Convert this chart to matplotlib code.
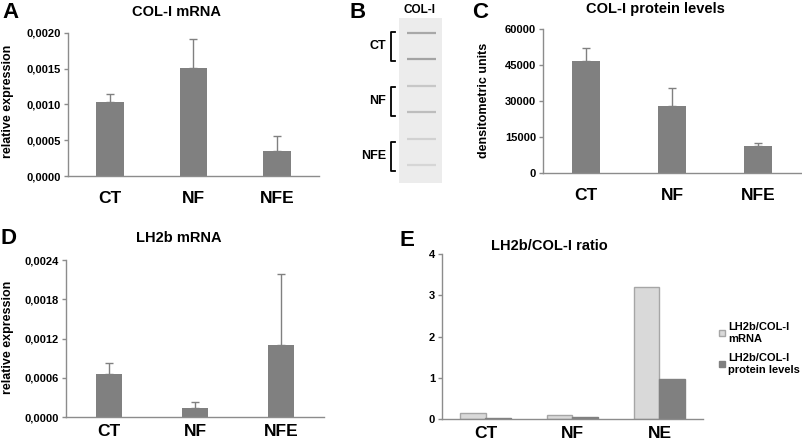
"""Five-panel figure: COL-I / LH2b expression, western blot and ratio."""

import matplotlib
matplotlib.use("Agg")
import matplotlib.pyplot as plt
from matplotlib.lines import Line2D
from matplotlib.patches import Patch, Rectangle
from matplotlib.ticker import FuncFormatter
import numpy as np

plt.rcParams["font.family"] = ["Liberation Sans", "DejaVu Sans"]
plt.rcParams["font.weight"] = "bold"

W, H = 803, 444

groups = ["CT", "NF", "NFE"]
ratio_groups = ["CT", "NF", "NE"]

col_mrna = [0.00104, 0.00151, 0.000345]
col_mrna_err = [0.00011, 0.00041, 0.00022]

col_protein = [46700, 28000, 11400]
col_protein_err = [5500, 7500, 1000]

lh2b_mrna = [0.00065, 0.000138, 0.0011]
lh2b_mrna_err = [0.00018, 0.00009, 0.00109]

ratio_mrna = [0.145, 0.087, 3.2]
ratio_protein = [0.025, 0.05, 0.98]
ratio_labels = ["LH2b/COL-I\nmRNA", "LH2b/COL-I\nprotein levels"]

# blot: band rows (top to bottom) and their grey level
blot_bands = [0.66, 0.64, 0.78, 0.74, 0.82, 0.84]
blot_groups = ["CT", "NF", "NFE"]

BAR = "#808080"
LIGHT = "#d9d9d9"
AXIS = "#8c8c8c"


def box(left, top, right, bottom):
    """pixel box -> figure fraction rect."""
    return [left / W, 1 - bottom / H, (right - left) / W, (bottom - top) / H]


def ftext(x, y, s, **kw):
    kw.setdefault("ha", "center")
    kw.setdefault("va", "center")
    fig.text(x / W, 1 - y / H, s, **kw)


def comma4(v, _pos):
    return f"{v:.4f}".replace(".", ",")


def style(ax, pad_x):
    for side in ("top", "right"):
        ax.spines[side].set_visible(False)
    for side in ("left", "bottom"):
        ax.spines[side].set_color(AXIS)
        ax.spines[side].set_linewidth(1.0)
    ax.tick_params(axis="y", length=3, width=1, color=AXIS, labelsize=8, pad=2)
    ax.tick_params(axis="x", length=0, labelsize=12.5, pad=pad_x)
    ax.set_xlim(-0.5, 2.5)


def err_bars(ax, x, y, e):
    ax.errorbar(x, y, yerr=[np.zeros(len(e)), e], fmt="none", ecolor=BAR,
                elinewidth=1, capsize=3, capthick=1)


fig = plt.figure(figsize=(W / 100, H / 100), dpi=100)

# A: COL-I mRNA
x = np.arange(len(groups))
ax_a = fig.add_axes(box(68, 33, 319, 176))
ax_a.bar(x, col_mrna, 0.33, color=BAR, zorder=2)
err_bars(ax_a, x, col_mrna, col_mrna_err)
ax_a.set_ylim(0, 0.002)
ax_a.set_yticks(np.arange(0, 0.00201, 0.0005))
ax_a.yaxis.set_major_formatter(FuncFormatter(comma4))
ax_a.set_xticks(x, groups)
style(ax_a, 11)
ftext(8, 101, "relative expression", rotation=90, fontsize=9)
ftext(177, 12, "COL-I mRNA", fontsize=10.5)
ftext(2, 13, "A", ha="left", fontsize=16)

# B: blot
ax_b = fig.add_axes(box(399, 18, 442, 183))
ax_b.set_xlim(0, 1)
ax_b.set_ylim(len(blot_bands) - 1 + 0.664, -0.566)
ax_b.axis("off")
ax_b.add_patch(Rectangle((0, -0.6), 1, len(blot_bands) + 1.2, color="#ececec"))
for i, g in enumerate(blot_bands):
    ax_b.hlines(i, 0.18, 0.85, color=str(g), linewidth=1.6)
ftext(420, 10, "COL-I", fontsize=8.5)
ftext(350, 13, "B", ha="left", fontsize=16)
for i, g in enumerate(blot_groups):
    y0, y1 = 31.7 + i * 55, 60.7 + i * 55
    fig.add_artist(Line2D([395 / W, 391.5 / W, 391.5 / W, 395 / W],
                          [1 - y0 / H, 1 - y0 / H, 1 - y1 / H, 1 - y1 / H],
                          color="black", linewidth=1.3))
    ftext(386, (y0 + y1) / 2, g, ha="right", fontsize=9)

# C: COL-I protein
ax_c = fig.add_axes(box(543, 29, 801, 173))
ax_c.bar(x, col_protein, 0.33, color=BAR, zorder=2)
err_bars(ax_c, x, col_protein, col_protein_err)
ax_c.set_ylim(0, 60000)
ax_c.set_yticks(np.arange(0, 60001, 15000))
ax_c.set_xticks(x, groups)
style(ax_c, 11)
ftext(484, 100, "densitometric units", rotation=90, fontsize=9)
ftext(655, 9, "COL-I protein levels", fontsize=10.5)
ftext(472, 13, "C", ha="left", fontsize=16)

# D: LH2b mRNA
ax_d = fig.add_axes(box(66, 260, 324, 417))
ax_d.bar(x, lh2b_mrna, 0.31, color=BAR, zorder=2)
err_bars(ax_d, x, lh2b_mrna, lh2b_mrna_err)
ax_d.set_ylim(0, 0.0024)
ax_d.set_yticks(np.arange(0, 0.00241, 0.0006))
ax_d.yaxis.set_major_formatter(FuncFormatter(comma4))
ax_d.set_xticks(x, groups)
style(ax_d, 5)
ftext(8, 337, "relative expression", rotation=90, fontsize=9)
ftext(179, 238, "LH2b mRNA", fontsize=10.5)
ftext(0, 238, "D", ha="left", fontsize=16)

# E: ratio
ax_e = fig.add_axes(box(442, 254, 703, 419))
w = 0.29
ax_e.bar(x - w / 2, ratio_mrna, w, color=LIGHT, edgecolor="#a6a6a6",
         linewidth=1, label=ratio_labels[0], zorder=2)
ax_e.bar(x + w / 2, ratio_protein, w, color=BAR, edgecolor="#808080",
         linewidth=1, label=ratio_labels[1], zorder=2)
ax_e.set_ylim(0, 4)
ax_e.set_yticks(range(0, 5))
ax_e.set_xticks(x, ratio_groups)
style(ax_e, 5)
ftext(549, 246, "LH2b/COL-I ratio", fontsize=10.5)
ftext(400, 240, "E", ha="left", fontsize=16)
handles = [Patch(facecolor=LIGHT, edgecolor="#a6a6a6"),
           Patch(facecolor=BAR, edgecolor=BAR)]
fig.legend(handles, ratio_labels, loc="upper left",
           bbox_to_anchor=(715 / W, 1 - 318 / H), frameon=False,
           fontsize=8, handlelength=0.5, handleheight=0.5,
           handletextpad=0.25, labelspacing=0.8, borderaxespad=0)

fig.savefig("out.png", dpi=100)
